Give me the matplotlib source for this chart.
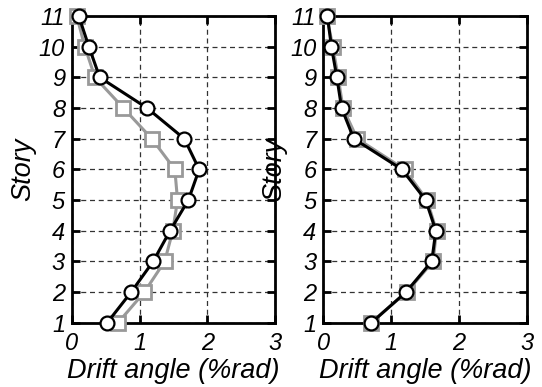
import matplotlib
matplotlib.use("Agg")
import matplotlib.pyplot as plt

stories = [1, 2, 3, 4, 5, 6, 7, 8, 9, 10, 11]

# left panel
left_circle = [0.52, 0.875, 1.20, 1.45, 1.72, 1.88, 1.66, 1.11, 0.41, 0.25, 0.10]
left_square = [0.68, 1.07, 1.37, 1.49, 1.56, 1.52, 1.18, 0.76, 0.34, 0.19, 0.07]

# right panel
right_circle = [0.71, 1.22, 1.60, 1.66, 1.51, 1.16, 0.45, 0.27, 0.20, 0.12, 0.06]
right_square = [0.70, 1.23, 1.62, 1.67, 1.53, 1.20, 0.50, 0.29, 0.22, 0.14, 0.05]

xticks = [0, 1, 2, 3]

plt.rcParams['font.family'] = ['Liberation Sans', 'DejaVu Sans']
plt.rcParams['font.style'] = 'italic'

fig = plt.figure(figsize=(5.42, 3.87), dpi=100)
ax1 = fig.add_axes([0.1328, 0.166, 0.3745, 0.7926])
ax2 = fig.add_axes([0.5965, 0.166, 0.3752, 0.7926])


def drawPanel(ax, sq, ci):
    ax.plot(sq, stories, '-s', color='#999999', lw=2.2, ms=9.5,
            mfc='white', mec='#999999', mew=2, clip_on=False, zorder=3)
    ax.plot(ci, stories, '-o', color='black', lw=2.2, ms=10,
            mfc='white', mec='black', mew=1.6, clip_on=False, zorder=4)
    ax.set_xlim(0, 3)
    ax.set_ylim(1, 11)
    ax.set_xticks(xticks)
    ax.set_yticks(stories)
    ax.grid(True, ls=(0, (4, 3)), color='#333333', lw=0.9)
    ax.tick_params(direction='in', length=6, width=2, top=True, right=True,
                   labelsize=17)
    ax.tick_params(axis='x', pad=7)
    ax.tick_params(axis='y', pad=5)
    for s in ax.spines.values():
        s.set_linewidth(2)
    ax.set_xlabel("Drift angle (%rad)", fontsize=19.5, labelpad=2)
    ax.set_ylabel("Story", fontsize=19.5, labelpad=2)


drawPanel(ax1, left_square, left_circle)
drawPanel(ax2, right_square, right_circle)

fig.savefig("out.png", dpi=100)
